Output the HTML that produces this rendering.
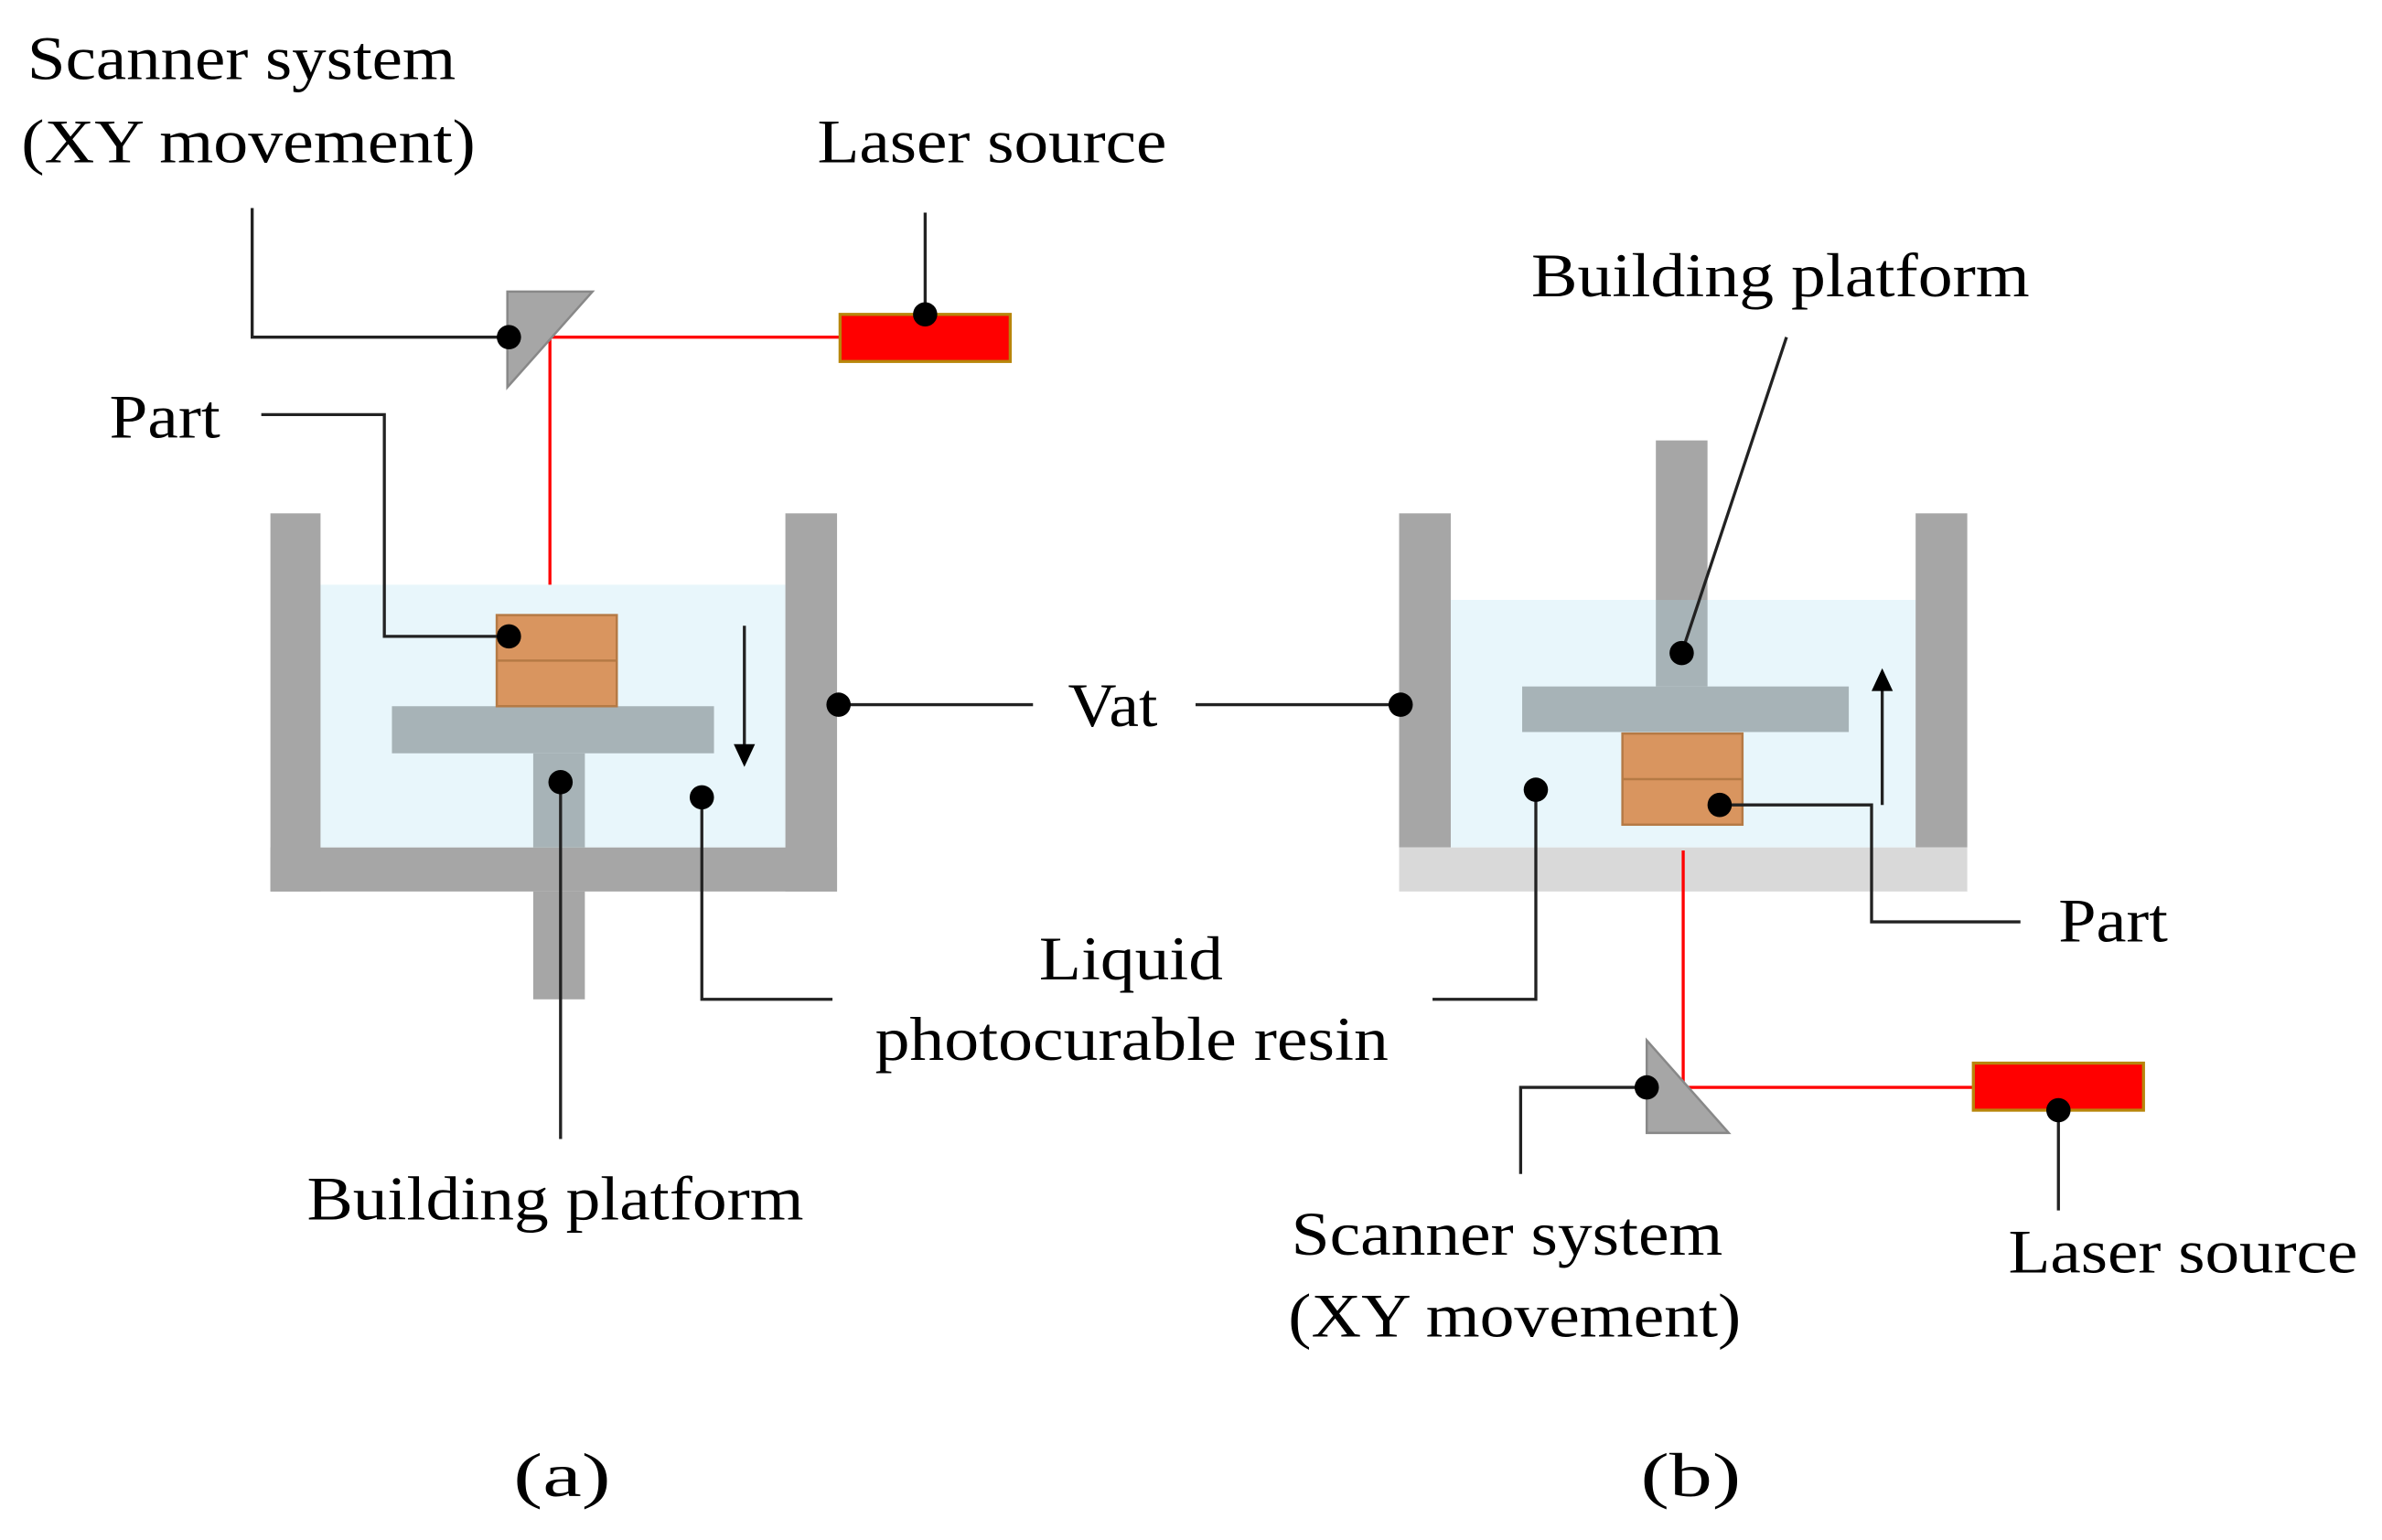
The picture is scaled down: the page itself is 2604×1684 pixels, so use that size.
<!DOCTYPE html>
<html><head><meta charset="utf-8"><style>html,body{margin:0;padding:0;background:#fff}svg{display:block}</style></head>
<body>
<svg width="2604" height="1684" viewBox="0 0 1568 1014" preserveAspectRatio="none" xmlns="http://www.w3.org/2000/svg" font-family="Liberation Serif, serif" font-size="41" fill="#000">
<!-- LEFT (a) -->
<rect x="211" y="385" width="306" height="173" fill="#e8f6fb"/>
<rect x="178" y="338" width="33" height="249" fill="#a6a6a6"/>
<rect x="517" y="338" width="34" height="249" fill="#a6a6a6"/>
<rect x="178" y="558" width="373" height="29" fill="#a6a6a6"/>
<rect x="351" y="587" width="34" height="71" fill="#a6a6a6"/>
<rect x="351" y="496" width="34" height="62" fill="#a7b3b7"/>
<rect x="258" y="465" width="212" height="31" fill="#a7b3b7"/>
<rect x="327" y="405" width="79" height="60" fill="#d9955f" stroke="#b57a45" stroke-width="1.5"/>
<line x1="327" y1="435" x2="406" y2="435" stroke="#b57a45" stroke-width="1.5"/>
<polyline points="362,385 362,222 553,222" fill="none" stroke="#f00" stroke-width="2"/>
<rect x="553" y="207" width="112" height="31" fill="#f00" stroke="#b8860b" stroke-width="2"/>
<polygon points="334,192 390,192 334,255" fill="#a6a6a6" stroke="#888" stroke-width="1.5"/>
<!-- RIGHT (b) shapes -->
<rect x="955" y="395" width="306" height="163" fill="#e8f6fb"/>
<rect x="921" y="338" width="34" height="220" fill="#a6a6a6"/>
<rect x="1261" y="338" width="34" height="220" fill="#a6a6a6"/>
<rect x="921" y="558" width="374" height="29" fill="#d9d9d9"/>
<rect x="1090" y="290" width="34" height="105" fill="#a6a6a6"/>
<rect x="1090" y="395" width="34" height="57" fill="#a7b3b7"/>
<rect x="1002" y="452" width="215" height="30" fill="#a7b3b7"/>
<rect x="1068" y="483" width="79" height="60" fill="#d9955f" stroke="#b57a45" stroke-width="1.5"/>
<line x1="1068" y1="513" x2="1147" y2="513" stroke="#b57a45" stroke-width="1.5"/>
<polyline points="1108,560 1108,716 1299,716" fill="none" stroke="#f00" stroke-width="2"/>
<rect x="1299" y="700" width="112" height="31" fill="#f00" stroke="#b8860b" stroke-width="2"/>
<polygon points="1084,685 1138,746 1084,746" fill="#a6a6a6" stroke="#888" stroke-width="1.5"/>
<g stroke="#222" stroke-width="2" fill="none">
<polyline points="166,137 166,222 335,222"/>
<line x1="609" y1="140" x2="609" y2="207"/>
<polyline points="172,273 253,273 253,419 335,419"/>
<line x1="552" y1="464" x2="680" y2="464"/>
<line x1="787" y1="464" x2="922" y2="464"/>
<line x1="369" y1="515" x2="369" y2="750"/>
<polyline points="462,525 462,658 548,658"/>
<polyline points="1011,520 1011,658 943,658"/>
<line x1="490" y1="412" x2="490" y2="495"/>
<line x1="1107" y1="430" x2="1176" y2="222"/>
<polyline points="1132,530 1232,530 1232,607 1330,607"/>
<polyline points="1084,716 1001,716 1001,773"/>
<line x1="1355" y1="731" x2="1355" y2="797"/>
<line x1="1239" y1="530" x2="1239" y2="452"/>
</g>
<polygon points="483,490 497,490 490,505" fill="#000"/>
<polygon points="1232,455 1246,455 1239,440" fill="#000"/>
<g fill="#000">
<circle cx="335" cy="222" r="8"/><circle cx="609" cy="207" r="8"/><circle cx="335" cy="419" r="8"/>
<circle cx="552" cy="464" r="8"/><circle cx="922" cy="464" r="8"/><circle cx="369" cy="515" r="8"/>
<circle cx="462" cy="525" r="8"/><circle cx="1011" cy="520" r="8"/>
<circle cx="1107" cy="430" r="8"/><circle cx="1132" cy="530" r="8"/><circle cx="1084" cy="716" r="8"/><circle cx="1355" cy="731" r="8"/>
</g>
<g lengthAdjust="spacingAndGlyphs">
<text x="18" y="52" textLength="282" lengthAdjust="spacingAndGlyphs">Scanner system</text>
<text x="14" y="107" textLength="299" lengthAdjust="spacingAndGlyphs">(XY movement)</text>
<text x="538" y="107" textLength="230" lengthAdjust="spacingAndGlyphs">Laser source</text>
<text x="72" y="288" textLength="73" lengthAdjust="spacingAndGlyphs">Part</text>
<text x="703" y="478" textLength="59" lengthAdjust="spacingAndGlyphs">Vat</text>
<text x="684" y="645" textLength="121" lengthAdjust="spacingAndGlyphs">Liquid</text>
<text x="576" y="698" textLength="338" lengthAdjust="spacingAndGlyphs">photocurable resin</text>
<text x="202" y="803" textLength="327" lengthAdjust="spacingAndGlyphs">Building platform</text>
<text x="338" y="985" textLength="64" lengthAdjust="spacingAndGlyphs">(a)</text>
<text x="1008" y="195" textLength="328" lengthAdjust="spacingAndGlyphs">Building platform</text>
<text x="1355" y="620" textLength="72" lengthAdjust="spacingAndGlyphs">Part</text>
<text x="850" y="826" textLength="284" lengthAdjust="spacingAndGlyphs">Scanner system</text>
<text x="848" y="880" textLength="298" lengthAdjust="spacingAndGlyphs">(XY movement)</text>
<text x="1322" y="838" textLength="230" lengthAdjust="spacingAndGlyphs">Laser source</text>
<text x="1080" y="985" textLength="66" lengthAdjust="spacingAndGlyphs">(b)</text>
</g>
</svg>
</body></html>
